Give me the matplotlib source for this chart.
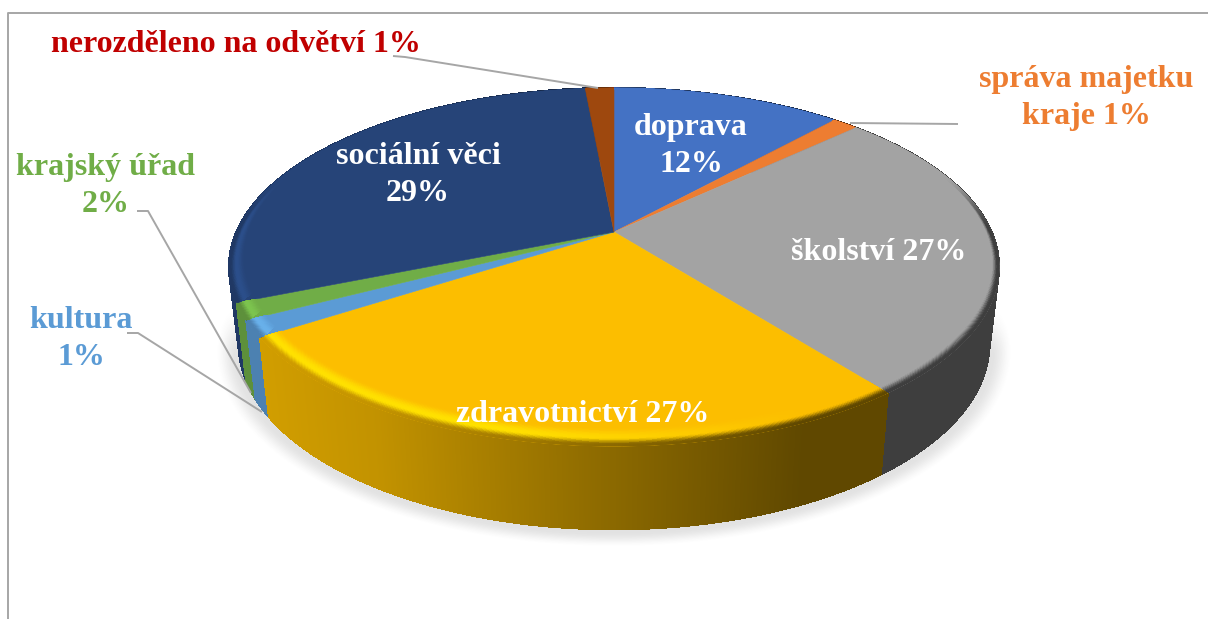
import numpy as np
import matplotlib
matplotlib.use("Agg")
import matplotlib.pyplot as plt
from matplotlib.collections import LineCollection, PolyCollection
from matplotlib.colors import to_rgb
from matplotlib.patches import Polygon

# ---- data ----
categories = ["doprava", "správa majetku kraje", "školství", "zdravotnictví",
              "kultura", "krajský úřad", "sociální věci", "nerozděleno na odvětví"]
values = [11.65, 1.3, 26.55, 26.3, 1.5, 1.5, 29.75, 1.45]
colors = ["#4472C4", "#ED7D31", "#A3A3A3", "#FCBE00",
          "#5B9BD5", "#70AD47", "#264478", "#9E480E"]
highlights = ["#4472C4", "#ED7D31", "#B0B0B0", "#FFE000",
              "#68B0EA", "#7CC44E", "#2B4E8A", "#9E480E"]
labels = ["doprava\n12%", "správa majetku\nkraje 1%", "školství 27%", "zdravotnictví 27%",
          "kultura\n1%", "krajský úřad\n2%", "sociální věci\n29%", "nerozděleno na odvětví 1%"]
label_colors = ["white", "#ED7D31", "white", "white",
                "#5B9BD5", "#70AD47", "white", "#C00000"]
label_pos = [(691, 146), (1086, 98), (879, 252), (583, 414),
             (81, 339), (106, 186), (418, 175), (236, 44)]

# ---- projection of the disc ----
CX, CY_TOP, R_TOP, S_TOP = 614.0, 232.0, 377.6, 172.2
CY_BOT, R_BOT, S_BOT = 308.0, 368.0, 178.0
K = 0.1955


def project(x, y, cy, rx, sy):
    w = 1 + K * y
    return CX + rx * x / w, cy - sy * y / w


def top(theta, r=1.0):
    return project(r * np.sin(theta), r * np.cos(theta), CY_TOP, R_TOP, S_TOP)


def bottom(theta):
    return project(np.sin(theta), np.cos(theta), CY_BOT, R_BOT, S_BOT)


def shade(x):
    return np.interp(x, [265, 380, 560, 700, 800, 880], [.83, .77, .60, .47, .38, .38])


def smooth(t):
    t = np.clip(t, 0, 1)
    return t * t * (3 - 2 * t)


W, H = 1208, 619
fig = plt.figure(figsize=(W / 100, H / 100), dpi=100, facecolor="white")
ax = fig.add_axes([0, 0, 1, 1])
ax.set_axis_off()

# ---- soft shadow below the body ----
xx, yy = np.meshgrid(np.arange(W) + .5, np.arange(H) + .5)
xt = (xx - CX) / (R_BOT + 2)
yt = ((CY_BOT + 3) - yy) / S_BOT
dy = yt / (1 - K * yt)
dx = xt * (1 + K * dy)
rr = np.hypot(dx, dy)
alpha = 0.15 * (1 - smooth((rr - 1.0) / 0.055)) * smooth((0.05 - dy) / 0.3)
shadow = np.zeros((H, W, 4))
shadow[..., :3] = 0.25
shadow[..., 3] = alpha
ax.imshow(shadow, extent=(0, W, H, 0), aspect="auto", zorder=1, interpolation="bilinear")

# ---- slices ----
fractions = np.array(values) / np.sum(values)
edges = np.concatenate([[0], np.cumsum(fractions)]) * 2 * np.pi

# side wall: swept quads, back to front
quads, quad_cols, quad_depth = [], [], []
rim_segs, rim_cols = [], []
for i, frac in enumerate(fractions):
    th = np.linspace(edges[i], edges[i + 1], max(int(frac * 1600), 8))
    face = np.array(to_rgb(colors[i]))
    xt_, yt_ = top(th)
    xb_, yb_ = bottom(th)
    for j in range(len(th) - 1):
        col = face * shade((xt_[j] + xt_[j + 1] + xb_[j] + xb_[j + 1]) / 4)
        quads.append([(xt_[j], yt_[j]), (xt_[j + 1], yt_[j + 1]),
                      (xb_[j + 1], yb_[j + 1]), (xb_[j], yb_[j])])
        quad_cols.append(col)
        quad_depth.append(np.cos((th[j] + th[j + 1]) / 2))
        rim_segs.append([(xb_[j], yb_[j]), (xb_[j + 1], yb_[j + 1])])
        rim_cols.append(col)
idx = np.argsort(-np.array(quad_depth))
# smooth outer edge of the wall, underneath it
ax.add_collection(LineCollection(rim_segs, colors=rim_cols, linewidths=1.0,
                                 capstyle="round", zorder=1.9))
wall = PolyCollection([quads[k] for k in idx], facecolors=[quad_cols[k] for k in idx],
                      edgecolors=[quad_cols[k] for k in idx], linewidths=0.8,
                      antialiaseds=False, zorder=2)
ax.add_collection(wall)

for i in range(len(values)):
    th = np.linspace(edges[i], edges[i + 1], 200)
    face = np.array(to_rgb(colors[i]))
    hi = np.array(to_rgb(highlights[i]))
    xt_, yt_ = top(th)
    poly = Polygon(np.column_stack([np.r_[CX, xt_], np.r_[CY_TOP, yt_]]), closed=True,
                   fc=colors[i], ec=colors[i], lw=0.4, zorder=3)
    ax.add_patch(poly)
    # bevel along the front rim
    for u in np.linspace(0, 1, 24)[::-1]:
        rx_, ry_ = top(th, 1 - 0.035 * u)
        ry_ = ry_ - 8 * u
        mx = (rx_[:-1] + rx_[1:]) / 2
        a = np.clip((800 - mx) / 300, 0, 1)[:, None]
        wall_c = shade(mx)[:, None] * face
        hi_c = face + (hi - face) * a
        c = wall_c + (hi_c - wall_c) * smooth(u / 0.4)
        c = c + (face - c) * smooth((u - 0.45) / 0.55)
        mask = smooth((0.35 - np.cos((th[:-1] + th[1:]) / 2)) / 0.35)[:, None]
        c = face + (c - face) * mask
        segs = np.stack([np.column_stack([rx_[:-1], ry_[:-1]]),
                         np.column_stack([rx_[1:], ry_[1:]])], axis=1)
        lc = LineCollection(segs, colors=np.clip(c, 0, 1), linewidths=2.0,
                            capstyle="projecting", antialiaseds=False, zorder=3.1)
        ax.add_collection(lc)
        lc.set_clip_path(poly)

# ---- leader lines ----
leaders = [[(850, 123), (958, 124)],
           [(127, 333), (138, 333), (262, 412)],
           [(137, 211), (148, 211), (251, 393)],
           [(393, 56), (405, 57), (598, 88)]]
for pts in leaders:
    p = np.array(pts)
    ax.plot(p[:, 0], p[:, 1], color="#A6A6A6", lw=1.4, zorder=4, solid_capstyle="butt")

# ---- labels ----
for text, col, (lx, ly) in zip(labels, label_colors, label_pos):
    ax.text(lx, ly, text, color=col, ha="center", va="center", fontsize=23,
            fontweight="bold", family="Liberation Serif", linespacing=1.38, zorder=5)

# ---- chart frame ----
ax.plot([8.2, 8.2, W], [H, 13.2, 13.2], color="#A6A6A6", lw=1.4, zorder=6)

ax.set_xlim(0, W)
ax.set_ylim(H, 0)
fig.savefig("out.png", dpi=100, facecolor="white")
